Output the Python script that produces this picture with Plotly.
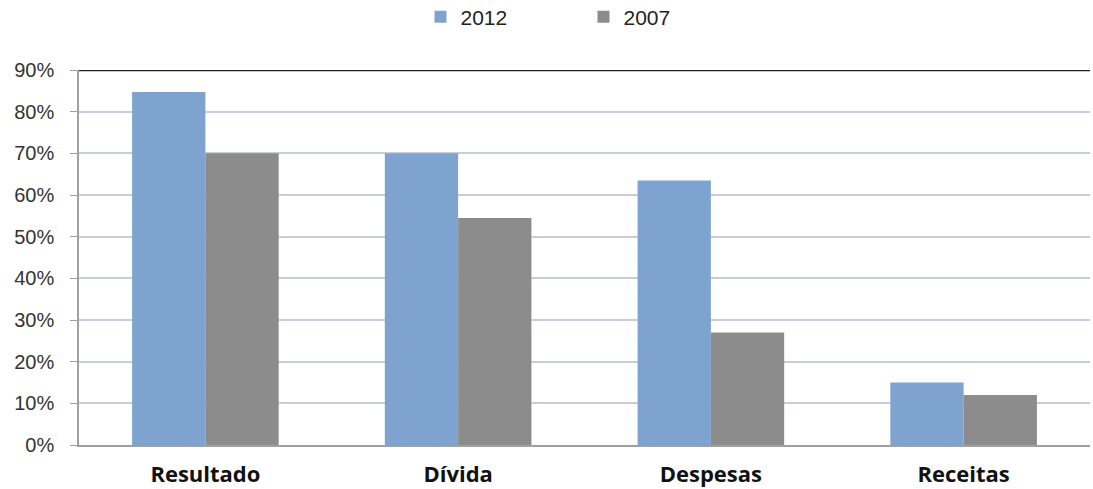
import plotly.graph_objects as go

categories = ["Resultado", "Dívida", "Despesas", "Receitas"]
values_2012 = [84.7, 70.0, 63.5, 15.0]
values_2007 = [70.0, 54.5, 27.0, 12.0]
tick_vals = [0, 10, 20, 30, 40, 50, 60, 70, 80, 90]
tick_text = [f"{v}%" for v in tick_vals]

fig = go.Figure()
fig.add_trace(go.Bar(name="2012", x=categories, y=values_2012, marker_color="#7FA3CF", marker_line_width=0))
fig.add_trace(go.Bar(name="2007", x=categories, y=values_2007, marker_color="#8C8C8C", marker_line_width=0))

fig.update_layout(
    width=1093, height=489,
    margin=dict(l=79, r=3, t=70, b=44),
    paper_bgcolor="white", plot_bgcolor="white",
    barmode="group", bargap=0.42, bargroupgap=0,
    font=dict(family="Liberation Sans, Arial", size=16, color="#333333"),
    legend=dict(orientation="h", x=0.499, xanchor="center", y=1 - 17 / 489, yanchor="middle",
                yref="container", entrywidth=118, font=dict(size=21, color="#222222"),
                itemwidth=30),
    showlegend=True,
)
fig.update_xaxes(showline=True, linecolor="#A0A0A0", linewidth=1.5, ticks="",
                 tickfont=dict(family="Open Sans", size=22, color="#111111", weight="bold"),
                 ticklabelstandoff=9, showgrid=False, automargin=False)
fig.update_yaxes(range=[0, 90], tickvals=tick_vals, ticktext=tick_text,
                 showline=True, linecolor="#A0A0A0", linewidth=1.5,
                 ticks="outside", ticklen=7, tickcolor="#A0A0A0",
                 ticklabelstandoff=12, automargin=False,
                 gridcolor="#C9CDDA", gridwidth=1.5, zeroline=False,
                 tickfont=dict(size=20, color="#333333"))
fig.add_shape(type="line", xref="paper", yref="y", x0=0, x1=1, y0=90, y1=90,
              line=dict(color="#222222", width=2.5))
fig.write_html("out.html")
